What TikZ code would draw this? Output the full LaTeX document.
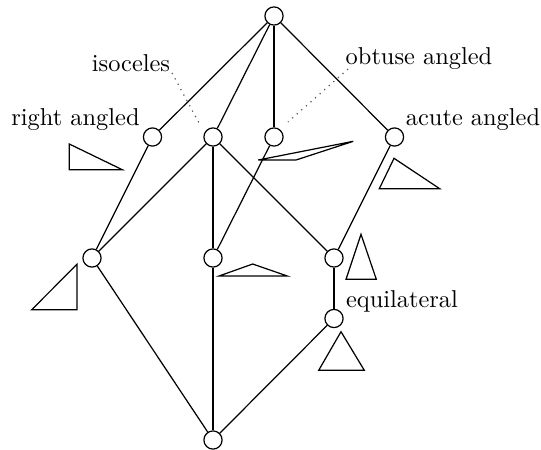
\documentclass[tikz,border=0pt]{standalone}
\usepackage{amsmath}
\usepackage{amssymb}
\tikzset{
    lattice/.style={circle, draw, fill=white, line width=0.5pt, minimum size=0.262cm, inner sep=0pt},
    cover/.style={line width=0.5pt},
    pointer/.style={line width=0.5pt, dotted, gray!70!black},
    triangle/.style={line width=0.5pt, line join=miter},
}

\begin{document}
\begin{tikzpicture}[x=0.0144cm, y=-0.0144cm]
    \useasboundingbox (0,0) rectangle (541,449);

    % Lattice elements
    \node[lattice] (top) at (274,16) {};
    \node[lattice] (right) at (152.5,137) {};
    \node[lattice] (iso) at (213,137) {};
    \node[lattice] (obtuse) at (274,137) {};
    \node[lattice] (acute) at (394.5,137) {};
    \node[lattice] (rightiso) at (92,258) {};
    \node[lattice] (obtiso) at (213,258) {};
    \node[lattice] (acuteiso) at (334,258) {};
    \node[lattice] (equi) at (334,318.5) {};
    \node[lattice] (bottom) at (213,440) {};

    % Edges
    \foreach \a/\b in {top/right, top/iso, top/obtuse, top/acute,
                       right/rightiso, iso/rightiso, iso/obtiso, iso/acuteiso,
                       obtuse/obtiso, acute/acuteiso, acuteiso/equi,
                       rightiso/bottom, obtiso/bottom, equi/bottom}
        \draw[cover] (\a) -- (\b);

    % Labels
    \node (isolabel) at (131,63.5) {isoceles};
    \node (rightlabel) at (75.5,120) {right angled};
    \node (obtuselabel) at (419,59) {obtuse angled};
    \node (acutelabel) at (473,120) {acute angled};
    \node (equilabel) at (402,301) {equilateral};

    % Pointers
    \coordinate (isoend) at (199,123);
    \coordinate (obtuseend) at (288,122);
    \coordinate (isostart) at (172,73);
    \coordinate (obtusestart) at (348,69);
    \draw[pointer] (isostart) -- (isoend);
    \draw[pointer] (obtusestart) -- (obtuseend);

    % Triangles
    \draw[triangle] (69.3,144) -- (69.3,169.7) -- (122.3,169.7) -- cycle;
    \draw[triangle] (77,264.3) -- (77,309.7) -- (31.7,309.7) -- cycle;
    \draw[triangle] (219,276) -- (252.7,264) -- (287.3,276) -- cycle;
    \draw[triangle] (361,234.3) -- (346,279.3) -- (376.3,279.3) -- cycle;
    \draw[triangle] (341,331.7) -- (318.7,370.3) -- (364.3,370.3) -- cycle;
    \draw[triangle] (394,158.3) -- (379.3,188.7) -- (439.7,188.7) -- cycle;
    \draw[triangle] (258.3,160) -- (296,160) -- (353.3,141.3) -- cycle;
\end{tikzpicture}
\end{document}
